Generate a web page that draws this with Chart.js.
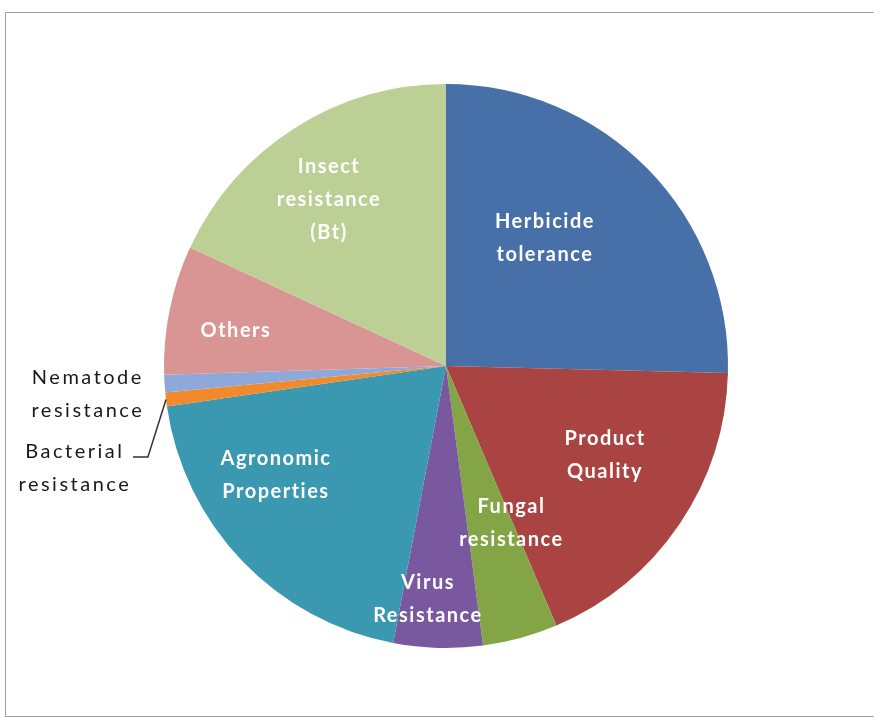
<!DOCTYPE html>
<html>
<head>
<meta charset="utf-8">
<script src="https://cdn.jsdelivr.net/npm/chart.js@4/dist/chart.umd.min.js"></script>
<style>
  html, body { margin: 0; padding: 0; background: #fff; overflow: hidden; }
  #frame { position: absolute; left: 5px; top: 12px; width: 900px; height: 703px; border: 1px solid #a0a0a0; }
  #chart { position: absolute; left: 0; top: 0; }
</style>
</head>
<body>
<div id="frame"></div>
<canvas id="chart" width="874" height="717"></canvas>
<script>
// slices, clockwise from 12 o'clock
const categories = [
  'Herbicide tolerance',
  'Product Quality',
  'Fungal resistance',
  'Virus Resistance',
  'Agronomic Properties',
  'Bacterial resistance',
  'Nematode resistance',
  'Others',
  'Insect resistance (Bt)'
];
const shares = [25.4, 18.2, 4.3, 5.1, 19.7, 0.8, 1.0, 7.4, 18.1];

const sliceColors = [
  '#4670a7', '#a94442', '#84a545', '#7a58a0', '#3a98b0',
  '#f08a2c', '#8ea9d9', '#d89593', '#bcd095'
];

// label centre offsets from the pie centre, in radius units
const placement = [
  { dx: 0.351, dy: -0.454, inside: true },
  { dx: 0.564, dy: 0.316, inside: true },
  { dx: 0.232, dy: 0.557, inside: true },
  { dx: -0.064, dy: 0.826, inside: true },
  { dx: -0.603, dy: 0.387, inside: true },
  { dx: -1.316, dy: 0.362, inside: false },
  { dx: -1.27, dy: 0.099, inside: false },
  { dx: -0.745, dy: -0.124, inside: true },
  { dx: -0.415, dy: -0.589, inside: true }
];

const sliceLabels = {
  id: 'sliceLabels',
  afterDatasetsDraw(chart) {
    const ctx = chart.ctx;
    const arcs = chart.getDatasetMeta(0).data;
    const cx = arcs[0].x, cy = arcs[0].y, r = arcs[0].outerRadius;
    ctx.save();
    ctx.textAlign = 'center';
    ctx.textBaseline = 'middle';
    categories.forEach((name, i) => {
      const p = placement[i];
      const lines = name.split(' ');
      const x = cx + p.dx * r, y = cy + p.dy * r;
      if (p.inside) {
        ctx.font = 'bold 20px Lato';
        ctx.fillStyle = '#ffffff';
        ctx.letterSpacing = '1.5px';
      } else {
        ctx.font = '20px Lato';
        ctx.fillStyle = '#1a1a1a';
        ctx.letterSpacing = '2.5px';
      }
      lines.forEach((ln, k) => {
        ctx.fillText(ln, x, y + (k - (lines.length - 1) / 2) * 33);
      });
    });

    // leader line for the bacterial slice
    const a = arcs[5];
    const mid = (a.startAngle + a.endAngle) / 2;
    ctx.strokeStyle = '#333';
    ctx.lineWidth = 1.5;
    ctx.beginPath();
    ctx.moveTo(cx + Math.cos(mid) * r, cy + Math.sin(mid) * r);
    ctx.lineTo(cx - 1.057 * r, cy + 0.323 * r);
    ctx.lineTo(cx - 1.11 * r, cy + 0.323 * r);
    ctx.stroke();
    ctx.restore();
  }
};

const ctx = document.getElementById('chart').getContext('2d');
new Chart(ctx, {
  type: 'pie',
  data: {
    labels: categories,
    datasets: [{
      data: shares,
      backgroundColor: sliceColors,
      borderWidth: 0,
      hoverOffset: 0
    }]
  },
  options: {
    responsive: false,
    animation: false,
    layout: { padding: { left: 164, right: 146, top: 84, bottom: 69 } },
    plugins: {
      legend: { display: false },
      tooltip: { enabled: false }
    }
  },
  plugins: [sliceLabels]
});
</script>
</body>
</html>
